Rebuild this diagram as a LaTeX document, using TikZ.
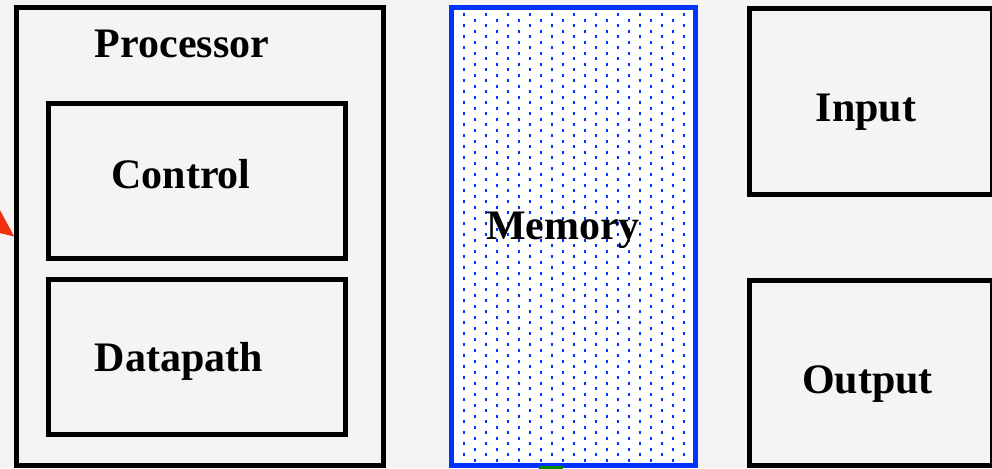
\documentclass[tikz,border=0pt]{standalone}
\usepackage{fontspec}
\setmainfont{Liberation Serif}
\usetikzlibrary{arrows.meta, positioning, calc}
\definecolor{sheet}{HTML}{F4F4F4}
\definecolor{memblue}{HTML}{0033FF}
\definecolor{pointer}{HTML}{F0300E}
\definecolor{busgreen}{HTML}{008C00}

\begin{document}
\begin{tikzpicture}[x=0.5pt, y=-0.5pt, >=Stealth,
    unit/.style={rectangle, draw=black, line width=2.5pt, fill=sheet, inner sep=0pt},
    store/.style={rectangle, draw=memblue, line width=2.5pt, fill=white, inner sep=0pt},
    caption/.style={anchor=base, inner sep=0pt, font=\bfseries\fontsize{21}{25}\selectfont}]
  \useasboundingbox (0,0) rectangle (992,468);
  \fill[sheet] (0,0) rectangle (992,468);
  \clip (0,0) rectangle (992,468);
  \node[unit, minimum width=183.25pt, minimum height=229pt] (proc) at (200,236.5) {};
  \node[unit, minimum width=148.5pt, minimum height=77.25pt] (ctrl) at (197,180.75) {};
  \node[unit, minimum width=148.5pt, minimum height=77.25pt] (dpath) at (197,357) {};
  \node[store, minimum width=122pt, minimum height=229pt] (mem) at (573,236.5) {};
  \node[unit, minimum width=121.5pt, minimum height=93pt] (in) at (870.5,101) {};
  \node[unit, minimum width=121.5pt, minimum height=92.5pt] (out) at (870.5,372.5) {};
  \begin{scope}
    \clip ($(mem.north west)+(3,3)$) rectangle ($(mem.south east)+(-3,-3)$);
    \foreach \r in {0,...,82} {
      \pgfmathsetmacro\dy{14.7+5.5*\r}
      \pgfmathsetmacro\dx{464-11*mod(\r,2)}
      \foreach \k in {0,...,11}
        \fill[memblue] (\dx+22*\k-1.4,\dy-1.4) rectangle ++(2.8,2.8);
    }
  \end{scope}
  \coordinate (ptrtail) at (-40,195);
  \draw[-{Stealth[length=18pt, width=16pt]}, pointer, line width=2.5pt] (ptrtail) -- (proc.west);
  \coordinate (memfeed) at ($(mem.south)+(-22,-2.5)$);
  \draw[busgreen, line width=12pt] (memfeed) -- ++(0,40);
  \node[caption] (proctext) at (182,57) {Processor};
  \node[caption] (ctrltext) at (181,188) {Control};
  \node[caption] (dpathtext) at (179,371.5) {Datapath};
  \node[caption] (memtext) at (563,239.3) {Memory};
  \node[caption] (intext) at (866,121) {Input};
  \node[caption] (outtext) at (867.5,393) {Output};
\end{tikzpicture}
\end{document}
